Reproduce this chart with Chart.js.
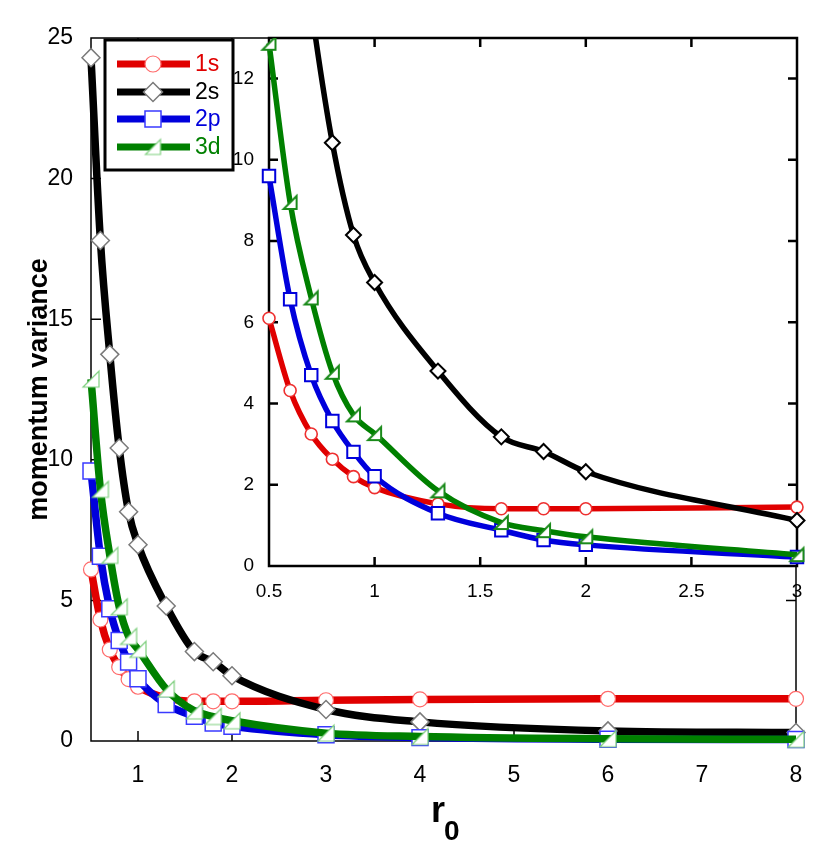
<!DOCTYPE html>
<html>
<head>
<meta charset="utf-8">
<title>momentum variance vs r0</title>
<script src="https://cdn.jsdelivr.net/npm/chart.js@4.4.1/dist/chart.umd.min.js"></script>
<style>
    html, body { margin: 0; padding: 0; background: #fff; }
    #wrap { position: relative; width: 830px; height: 868px; }
    #mainChart { position: absolute; left: 0; top: 0; }
    #insetChart { position: absolute; left: 228px; top: 0; }
</style>
</head>
<body>
<div id="wrap">
    <canvas id="mainChart" width="830" height="868"></canvas>
    <canvas id="insetChart" width="602" height="620"></canvas>
</div>
<script>
// Confinement radius r0 of each sample
const r0Values = [0.5, 0.6, 0.7, 0.8, 0.9, 1.0, 1.3, 1.6, 1.8, 2.0, 3, 4, 6, 8];

// Momentum variance per state
const variance1s = [6.1, 4.32, 3.25, 2.63, 2.2, 1.93, 1.53, 1.41, 1.41, 1.41, 1.45, 1.48, 1.5, 1.5];
const variance2s = [24.3, 17.8, 13.75, 10.42, 8.15, 6.98, 4.8, 3.18, 2.82, 2.32, 1.12, 0.68, 0.36, 0.3];
const variance2p = [9.6, 6.57, 4.7, 3.57, 2.81, 2.21, 1.3, 0.88, 0.64, 0.52, 0.22, 0.12, 0.06, 0.05];
const variance3d = [12.87, 8.95, 6.6, 4.77, 3.72, 3.26, 1.85, 1.07, 0.87, 0.72, 0.28, 0.16, 0.08, 0.06];

const seriesNames = ['1s', '2s', '2p', '3d'];

// Tick values
const mainXTicks = [1, 2, 3, 4, 5, 6, 7, 8];
const mainYTicks = [0, 5, 10, 15, 20, 25];
const insetXTicks = [0.5, 1, 1.5, 2, 2.5, 3];
const insetYTicks = [0, 2, 4, 6, 8, 10, 12];

const RED = '#e00000';
const BLACK = '#000000';
const BLUE = '#0000dc';
const GREEN = '#008000';

Chart.defaults.font.family = "'Liberation Sans', Arial, sans-serif";
Chart.defaults.color = '#000';

// Right triangle marker (the 3d symbol), drawn once into a small canvas
function triangleMarker(size, stroke, lineWidth) {
    const pad = Math.ceil(lineWidth) + 1;
    const c = document.createElement('canvas');
    c.width = c.height = size + pad * 2;
    const ctx = c.getContext('2d');
    ctx.beginPath();
    ctx.moveTo(pad, pad + size);
    ctx.lineTo(pad + size, pad + size);
    ctx.lineTo(pad + size, pad);
    ctx.closePath();
    ctx.fillStyle = '#fff';
    ctx.fill();
    ctx.lineWidth = lineWidth;
    ctx.strokeStyle = stroke;
    ctx.stroke();
    return c;
}

function points(values, maxX) {
    return r0Values
        .map((x, i) => ({ x: x, y: values[i] }))
        .filter(p => p.x <= maxX);
}

function fixedTicks(list) {
    return function(scale) {
        scale.ticks = list.map(v => ({ value: v }));
    };
}

// plain labels: 1 rather than 1.0
const plainLabel = v => String(v);

// Frame round the plot area with inward tick marks
function frameTicks(id, lineWidth, tickLen, background) {
    return {
        id: id,
        beforeDatasetsDraw(chart) {
            const { ctx, chartArea: a, scales } = chart;
            ctx.save();
            if (background) {
                ctx.fillStyle = '#fff';
                ctx.fillRect(a.left, a.top, a.right - a.left, a.bottom - a.top);
            }
            ctx.strokeStyle = '#000';
            ctx.lineWidth = lineWidth;
            ctx.strokeRect(a.left, a.top, a.right - a.left, a.bottom - a.top);
            ctx.beginPath();
            scales.x.ticks.forEach(t => {
                if (t.value <= scales.x.min || t.value >= scales.x.max) return;
                const px = scales.x.getPixelForValue(t.value);
                ctx.moveTo(px, a.bottom); ctx.lineTo(px, a.bottom - tickLen);
                ctx.moveTo(px, a.top); ctx.lineTo(px, a.top + tickLen);
            });
            scales.y.ticks.forEach(t => {
                if (t.value <= scales.y.min || t.value >= scales.y.max) return;
                const py = scales.y.getPixelForValue(t.value);
                ctx.moveTo(a.left, py); ctx.lineTo(a.left + tickLen, py);
                ctx.moveTo(a.right, py); ctx.lineTo(a.right - tickLen, py);
            });
            ctx.stroke();
            ctx.restore();
        }
    };
}

function drawLegendMarker(ctx, kind, x, y) {
    ctx.save();
    ctx.fillStyle = '#fff';
    ctx.beginPath();
    if (kind === 'circle') {
        ctx.arc(x, y, 8, 0, Math.PI * 2);
        ctx.fill();
        ctx.lineWidth = 1.2; ctx.strokeStyle = '#ff6a6a'; ctx.stroke();
    } else if (kind === 'rectRot') {
        ctx.moveTo(x, y - 9.5); ctx.lineTo(x + 9.5, y); ctx.lineTo(x, y + 9.5); ctx.lineTo(x - 9.5, y);
        ctx.closePath(); ctx.fill();
        ctx.lineWidth = 1.5; ctx.strokeStyle = '#7a7a7a'; ctx.stroke();
    } else if (kind === 'rect') {
        ctx.rect(x - 8, y - 8, 16, 16); ctx.fill();
        ctx.lineWidth = 1.5; ctx.strokeStyle = '#3a3aff'; ctx.stroke();
    } else {
        const img = triangleMarker(15, '#7fcf7f', 1.2);
        ctx.drawImage(img, x - img.width / 2, y - img.height / 2);
    }
    ctx.restore();
}

const legendBox = {
    id: 'legendBox',
    afterDraw(chart) {
        const ctx = chart.ctx;
        const rows = [64, 92, 119, 147];
        const kinds = ['circle', 'rectRot', 'rect', 'triangle'];
        const colors = [RED, BLACK, BLUE, GREEN];
        ctx.save();
        ctx.fillStyle = '#fff';
        ctx.fillRect(105, 40, 128, 130);
        ctx.lineWidth = 3;
        ctx.strokeStyle = '#000';
        ctx.strokeRect(105, 40, 128, 130);
        seriesNames.forEach((name, i) => {
            ctx.beginPath();
            ctx.moveTo(117, rows[i]);
            ctx.lineTo(190, rows[i]);
            ctx.lineWidth = 7;
            ctx.strokeStyle = colors[i];
            ctx.stroke();
            drawLegendMarker(ctx, kinds[i], 153, rows[i]);
            ctx.fillStyle = colors[i];
            ctx.font = "23px 'Liberation Sans', Arial, sans-serif";
            ctx.textBaseline = 'middle';
            ctx.textAlign = 'left';
            ctx.fillText(name, 195, rows[i] + 1);
        });
        ctx.restore();
    }
};

// x axis title r0 with a subscript
const xTitle = {
    id: 'xTitle',
    afterDraw(chart) {
        const ctx = chart.ctx;
        ctx.save();
        ctx.fillStyle = '#000';
        ctx.textAlign = 'left';
        ctx.textBaseline = 'alphabetic';
        ctx.font = "bold 36px 'Liberation Sans', Arial, sans-serif";
        ctx.fillText('r', 431, 822);
        ctx.font = "bold 28px 'Liberation Sans', Arial, sans-serif";
        ctx.fillText('0', 444, 840);
        ctx.restore();
    }
};

function buildDatasets(big, maxX) {
    const common = { fill: false, cubicInterpolationMode: 'monotone', pointBackgroundColor: '#fff' };
    const clip = big ? false : { left: 12, right: 12, top: 0, bottom: 12 };
    const lw = big ? 7.5 : 5.5;
    return [
        Object.assign({}, common, {
            label: seriesNames[0], data: points(variance1s, maxX), order: 3, clip: clip,
            borderColor: RED, borderWidth: lw,
            pointStyle: 'circle', pointRadius: big ? 7.5 : 6,
            pointBorderColor: big ? '#ff6a6a' : '#ee3030', pointBorderWidth: big ? 1.2 : 1.6
        }),
        Object.assign({}, common, {
            label: seriesNames[1], data: points(variance2s, maxX), order: 2, clip: clip,
            borderColor: BLACK, borderWidth: lw,
            pointStyle: 'rectRot', pointRadius: big ? 9 : 7.5,
            pointBorderColor: big ? '#7a7a7a' : '#000', pointBorderWidth: big ? 1.5 : 2
        }),
        Object.assign({}, common, {
            label: seriesNames[2], data: points(variance2p, maxX), order: 1, clip: clip,
            borderColor: BLUE, borderWidth: lw,
            pointStyle: 'rect', pointRadius: big ? 11.3 : 8.8,
            pointBorderColor: big ? '#3a3aff' : BLUE, pointBorderWidth: big ? 1.5 : 2
        }),
        Object.assign({}, common, {
            label: seriesNames[3], data: points(variance3d, maxX), order: 0, clip: clip,
            borderColor: GREEN, borderWidth: lw,
            pointStyle: big ? triangleMarker(16, '#7fcf7f', 1.2) : triangleMarker(13, '#1a8a1a', 2)
        })
    ];
}

// Main chart
new Chart(document.getElementById('mainChart'), {
    type: 'line',
    data: { datasets: buildDatasets(true, 8) },
    options: {
        responsive: false,
        animation: false,
        events: [],
        layout: { padding: { top: 38, right: 34, left: 0, bottom: 0 } },
        scales: {
            x: {
                type: 'linear', min: 0.5, max: 8,
                afterBuildTicks: fixedTicks(mainXTicks),
                afterFit: s => { s.height = 127; },
                grid: { display: false, drawTicks: false },
                border: { display: false },
                ticks: { font: { size: 23 }, color: '#000', padding: 21, maxRotation: 0, autoSkip: false, callback: plainLabel }
            },
            y: {
                type: 'linear', min: 0, max: 25,
                afterBuildTicks: fixedTicks(mainYTicks),
                afterFit: s => { s.width = 91; },
                grid: { display: false, drawTicks: false },
                border: { display: false },
                ticks: { font: { size: 23 }, color: '#000', padding: 18, autoSkip: false, callback: plainLabel },
                title: {
                    display: true,
                    text: 'momentum variance',
                    font: { size: 27, weight: 'bold' },
                    color: '#000',
                    padding: { top: 23, bottom: 0 }
                }
            }
        },
        plugins: {
            legend: { display: false },
            tooltip: { enabled: false }
        }
    },
    plugins: [frameTicks('mainFrame', 1.5, 10, false), legendBox, xTitle]
});

// Inset chart (zoom on small r0)
new Chart(document.getElementById('insetChart'), {
    type: 'line',
    data: { datasets: buildDatasets(false, 3) },
    options: {
        responsive: false,
        animation: false,
        events: [],
        layout: { padding: { top: 38, right: 33, left: 0, bottom: 0 } },
        scales: {
            x: {
                type: 'linear', min: 0.5, max: 3,
                afterBuildTicks: fixedTicks(insetXTicks),
                afterFit: s => { s.height = 54; },
                grid: { display: false, drawTicks: false },
                border: { display: false },
                ticks: { font: { size: 19 }, color: '#000', padding: 14, maxRotation: 0, autoSkip: false, callback: plainLabel }
            },
            y: {
                type: 'linear', min: 0, max: 13,
                afterBuildTicks: fixedTicks(insetYTicks),
                afterFit: s => { s.width = 41; },
                grid: { display: false, drawTicks: false },
                border: { display: false },
                ticks: { font: { size: 19 }, color: '#000', padding: 15, autoSkip: false, callback: plainLabel }
            }
        },
        plugins: {
            legend: { display: false },
            tooltip: { enabled: false }
        }
    },
    plugins: [frameTicks('insetFrame', 2.5, 9, true)]
});
</script>
</body>
</html>
